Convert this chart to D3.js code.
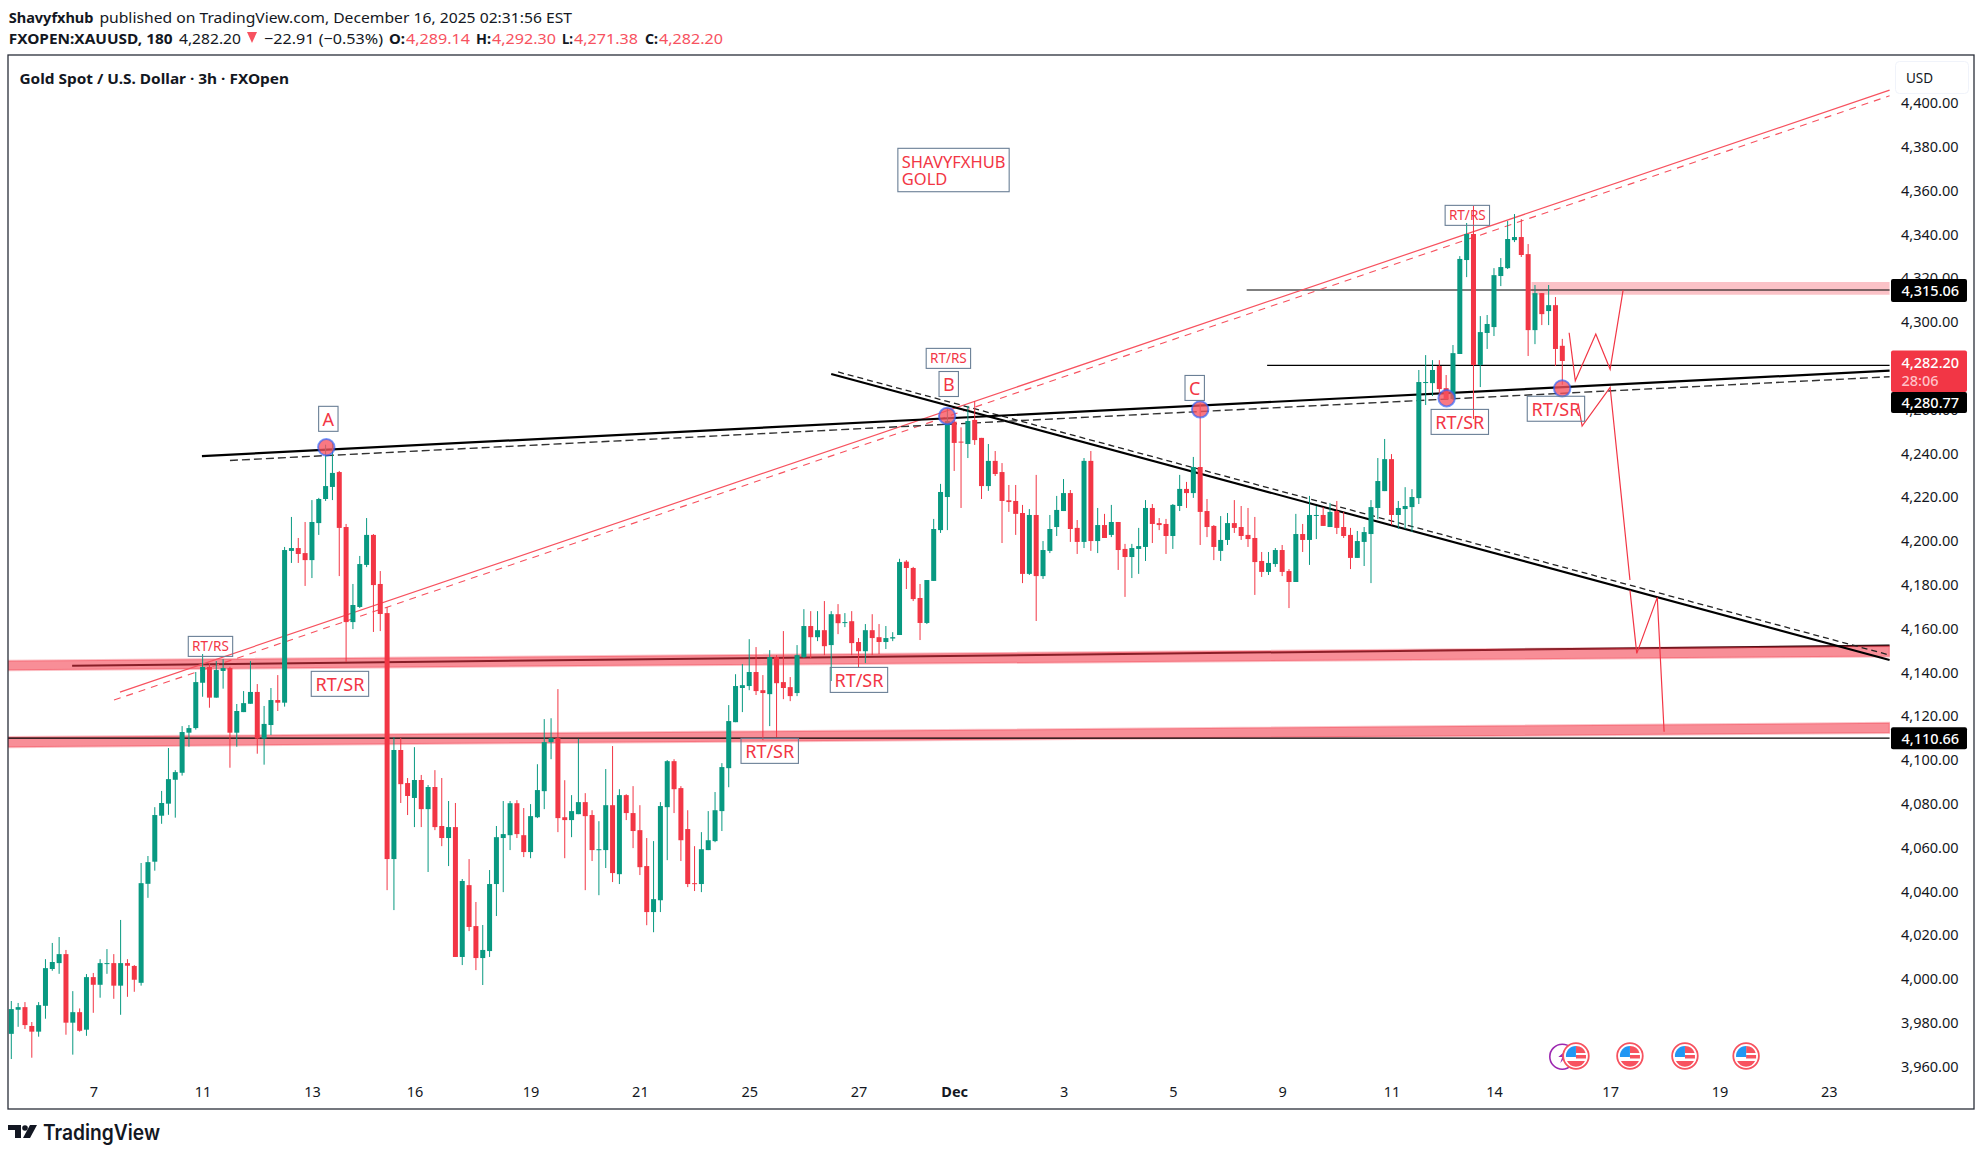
<!DOCTYPE html>
<html>
<head>
<meta charset="utf-8">
<title>XAUUSD</title>
<script src="https://cdn.jsdelivr.net/npm/d3@7"></script>
<style>
	html, body { margin: 0; padding: 0; background: #fff; }
	text { font-family: "Noto Sans", sans-serif; }
</style>
</head>
<body>
<div id="chart"></div>
<script>
// 3h candles
const opens = [
	3975.0, 3986.0, 3987.2, 3978.6, 3976.0, 3987.8, 4004.6, 4007.3, 4011.4, 3980.1,
	3984.9, 3976.9, 4000.9, 3997.4, 4007.0, 4007.3, 3997.0, 4007.3, 4006.0, 3998.3,
	4043.5, 4053.6, 4074.6, 4080.1, 4091.0, 4094.2, 4112.5, 4114.6, 4135.3, 4142.5,
	4128.5, 4140.7, 4142.0, 4112.5, 4121.9, 4125.7, 4131.1, 4109.8, 4116.0, 4127.4,
	4126.2, 4195.5, 4196.8, 4194.5, 4191.3, 4208.2, 4219.2, 4224.7, 4231.5, 4206.4,
	4163.0, 4169.9, 4189.1, 4202.8, 4180.4, 4167.1, 4054.8, 4104.6, 4089.5, 4082.7,
	4090.9, 4077.6, 4087.7, 4069.9, 4064.4, 4069.4, 4010.1, 4042.9, 4024.2, 4009.6,
	4012.8, 4043.4, 4064.4, 4065.7, 4080.3, 4065.7, 4058.0, 4073.9, 4085.8, 4108.2,
	4110.0, 4073.9, 4072.6, 4075.3, 4080.8, 4074.9, 4059.0, 4058.9, 4079.4, 4047.9,
	4084.0, 4075.8, 4068.0, 4051.6, 4030.6, 4036.0, 4078.5, 4099.5, 4087.2, 4068.5,
	4043.8, 4043.4, 4058.9, 4063.0, 4076.7, 4096.3, 4117.3, 4132.9, 4133.8, 4140.2,
	4131.9, 4130.1, 4147.0, 4135.6, 4133.3, 4130.6, 4147.0, 4161.2, 4156.1, 4159.3,
	4152.5, 4166.6, 4162.7, 4163.4, 4153.9, 4149.7, 4159.3, 4156.1, 4153.9, 4155.5,
	4157.1, 4190.6, 4187.7, 4174.0, 4162.6, 4181.8, 4205.0, 4220.1, 4254.5, 4245.4,
	4244.3, 4255.3, 4247.1, 4225.1, 4236.6, 4231.5, 4218.6, 4218.3, 4212.8, 4185.0,
	4211.9, 4184.0, 4195.5, 4206.4, 4213.7, 4221.9, 4206.0, 4199.6, 4236.6, 4200.0,
	4207.3, 4202.8, 4208.7, 4196.4, 4192.7, 4196.4, 4197.3, 4215.1, 4208.2, 4207.8,
	4202.3, 4216.0, 4223.8, 4221.9, 4233.8, 4213.7, 4206.9, 4195.5, 4200.5, 4208.2,
	4206.4, 4202.8, 4201.4, 4190.9, 4185.9, 4189.5, 4195.9, 4186.3, 4181.3, 4203.2,
	4200.5, 4211.6, 4211.9, 4206.4, 4213.7, 4206.4, 4202.8, 4192.3, 4199.6, 4203.2,
	4215.1, 4222.8, 4237.4, 4211.9, 4214.6, 4215.5, 4219.6, 4272.3, 4272.1, 4279.9,
	4269.8, 4264.8, 4285.4, 4328.3, 4340.2, 4280.4, 4295.0, 4297.7, 4321.0, 4324.6,
	4337.4, 4338.8, 4331.0, 4296.3, 4313.2, 4305.0, 4307.7, 4289.14
]
const highs = [
	3990.0, 3989.1, 3989.5, 3980.4, 3989.5, 4009.1, 4016.5, 4019.2, 4013.3, 3994.5,
	3986.6, 4002.3, 4002.8, 4009.1, 4013.7, 4011.4, 4027.0, 4009.1, 4006.4, 4053.0,
	4056.2, 4078.5, 4085.9, 4105.5, 4095.4, 4115.5, 4116.0, 4140.2, 4148.4, 4144.2,
	4145.2, 4146.1, 4142.6, 4125.6, 4131.5, 4145.2, 4134.7, 4124.7, 4132.9, 4138.8,
	4197.3, 4211.0, 4201.4, 4208.7, 4218.7, 4219.7, 4244.0, 4244.6, 4232.0, 4207.8,
	4180.4, 4193.2, 4210.5, 4203.2, 4186.3, 4169.9, 4110.5, 4110.1, 4091.8, 4105.9,
	4093.2, 4088.6, 4095.4, 4091.8, 4081.3, 4080.4, 4045.7, 4054.8, 4035.2, 4024.7,
	4049.8, 4069.9, 4081.3, 4081.3, 4081.7, 4078.1, 4079.9, 4098.1, 4118.7, 4119.1,
	4132.4, 4090.8, 4084.0, 4109.7, 4084.9, 4077.1, 4072.1, 4095.9, 4106.4, 4086.7,
	4084.4, 4088.1, 4079.4, 4064.4, 4063.0, 4080.8, 4100.0, 4100.4, 4088.1, 4077.1,
	4060.7, 4067.1, 4076.7, 4085.4, 4098.6, 4125.1, 4139.2, 4143.8, 4155.2, 4151.6,
	4138.8, 4150.2, 4147.9, 4158.9, 4137.9, 4152.5, 4168.9, 4168.0, 4168.0, 4172.6,
	4168.0, 4171.2, 4167.1, 4168.0, 4155.7, 4162.1, 4166.6, 4162.1, 4161.2, 4158.4,
	4191.9, 4191.3, 4188.2, 4180.4, 4182.2, 4210.1, 4226.1, 4260.6, 4255.3, 4251.9,
	4261.7, 4263.9, 4247.1, 4244.3, 4241.1, 4235.6, 4225.6, 4225.6, 4216.5, 4214.6,
	4230.2, 4200.0, 4211.9, 4220.6, 4228.3, 4223.3, 4209.6, 4237.9, 4241.1, 4215.1,
	4212.4, 4216.5, 4208.7, 4198.7, 4198.7, 4206.0, 4218.7, 4216.9, 4210.5, 4210.1,
	4216.9, 4230.2, 4227.0, 4238.4, 4262.9, 4219.2, 4207.3, 4211.4, 4212.8, 4218.7,
	4216.0, 4215.1, 4211.0, 4195.0, 4195.0, 4196.8, 4198.2, 4187.2, 4212.4, 4207.8,
	4220.6, 4216.0, 4215.5, 4217.4, 4218.3, 4213.3, 4206.0, 4204.6, 4206.4, 4218.7,
	4237.9, 4246.6, 4239.7, 4218.3, 4224.6, 4223.7, 4278.1, 4284.9, 4282.6, 4282.6,
	4275.8, 4289.5, 4330.1, 4345.2, 4353.0, 4302.7, 4303.2, 4324.6, 4329.2, 4346.1,
	4349.3, 4347.0, 4335.6, 4316.9, 4313.2, 4316.9, 4311.4, 4292.30
]
const lows = [
	3963.5, 3978.2, 3977.2, 3964.1, 3973.7, 3981.9, 4003.8, 4002.4, 3974.6, 3965.5,
	3976.0, 3974.1, 3984.6, 3991.5, 4002.4, 3991.0, 3983.7, 3991.9, 3994.2, 3997.0,
	4037.1, 4049.5, 4070.9, 4075.0, 4073.7, 4092.9, 4106.1, 4113.9, 4128.9, 4123.9,
	4128.5, 4132.6, 4096.5, 4106.1, 4121.9, 4125.7, 4102.9, 4097.9, 4111.4, 4122.4,
	4124.4, 4190.0, 4190.0, 4179.5, 4183.1, 4202.8, 4218.3, 4218.7, 4184.0, 4144.8,
	4159.8, 4169.4, 4188.1, 4158.5, 4158.9, 4040.6, 4031.5, 4080.4, 4074.9, 4069.4,
	4069.4, 4048.9, 4068.0, 4060.7, 4051.6, 4010.1, 4006.4, 4021.9, 4004.1, 3997.3,
	4010.1, 4028.8, 4039.7, 4058.9, 4064.4, 4055.7, 4055.2, 4073.5, 4077.6, 4100.4,
	4067.1, 4055.2, 4064.8, 4075.3, 4040.6, 4053.9, 4038.3, 4050.7, 4044.3, 4043.4,
	4072.6, 4059.8, 4047.5, 4024.6, 4021.4, 4030.6, 4054.3, 4075.8, 4053.9, 4042.0,
	4040.2, 4039.7, 4058.9, 4062.5, 4067.6, 4087.6, 4117.3, 4121.9, 4131.9, 4129.7,
	4109.1, 4115.5, 4110.5, 4127.8, 4126.9, 4129.2, 4146.6, 4146.6, 4154.3, 4147.9,
	4136.1, 4157.5, 4160.7, 4147.9, 4142.4, 4144.3, 4147.9, 4148.4, 4150.7, 4154.3,
	4157.1, 4178.1, 4172.6, 4154.8, 4162.1, 4181.8, 4203.7, 4205.0, 4232.0, 4215.1,
	4237.9, 4243.9, 4219.2, 4222.9, 4229.7, 4199.1, 4213.3, 4202.8, 4180.8, 4184.5,
	4163.5, 4182.7, 4194.5, 4202.3, 4213.7, 4199.6, 4194.1, 4196.8, 4195.5, 4194.5,
	4201.4, 4201.8, 4186.8, 4174.5, 4183.1, 4185.0, 4190.9, 4199.1, 4205.0, 4194.1,
	4196.4, 4213.7, 4215.1, 4219.7, 4198.2, 4201.8, 4191.3, 4190.9, 4198.2, 4203.7,
	4200.5, 4197.3, 4175.4, 4183.6, 4184.5, 4188.2, 4184.0, 4169.4, 4181.3, 4195.0,
	4189.1, 4200.9, 4206.9, 4206.4, 4203.2, 4201.4, 4187.2, 4192.3, 4188.6, 4180.8,
	4210.0, 4222.8, 4207.3, 4205.5, 4205.5, 4204.1, 4216.9, 4262.1, 4266.2, 4266.2,
	4264.8, 4264.8, 4285.4, 4320.5, 4255.7, 4270.3, 4287.7, 4293.6, 4316.4, 4324.2,
	4336.5, 4329.7, 4284.5, 4289.9, 4298.6, 4298.6, 4279.9, 4271.38
]
const closes = [
	3986.3, 3987.2, 3979.0, 3976.0, 3988.1, 4005.0, 4007.8, 4011.4, 3980.1, 3984.9,
	3976.4, 4000.9, 3997.4, 4007.3, 4007.3, 3997.0, 4007.3, 4006.1, 3999.7, 4043.8,
	4053.4, 4074.9, 4080.4, 4091.3, 4094.5, 4112.8, 4114.6, 4135.6, 4142.5, 4128.5,
	4141.1, 4142.0, 4112.5, 4122.4, 4126.0, 4131.1, 4109.8, 4116.5, 4127.4, 4126.2,
	4195.9, 4196.8, 4194.1, 4191.3, 4208.7, 4219.2, 4225.1, 4231.1, 4206.0, 4163.0,
	4170.8, 4189.5, 4202.8, 4179.9, 4166.7, 4054.8, 4104.6, 4089.0, 4083.6, 4090.9,
	4077.6, 4087.7, 4069.4, 4064.4, 4069.4, 4010.1, 4044.8, 4023.8, 4009.6, 4013.3,
	4043.4, 4064.8, 4066.2, 4080.3, 4066.2, 4058.0, 4074.4, 4086.3, 4108.2, 4110.0,
	4073.5, 4072.6, 4076.7, 4080.8, 4074.4, 4058.9, 4059.3, 4079.4, 4048.4, 4084.0,
	4075.8, 4067.6, 4051.1, 4030.6, 4036.5, 4079.0, 4099.5, 4086.7, 4063.4, 4043.4,
	4043.5, 4059.3, 4063.4, 4077.1, 4096.8, 4117.8, 4133.8, 4134.2, 4140.2, 4131.5,
	4130.6, 4147.0, 4135.1, 4132.9, 4129.2, 4147.9, 4161.2, 4156.1, 4159.3, 4152.0,
	4166.6, 4162.5, 4163.0, 4153.4, 4149.7, 4159.3, 4155.7, 4153.9, 4155.7, 4156.1,
	4190.4, 4187.7, 4173.5, 4162.6, 4182.2, 4205.5, 4222.4, 4254.8, 4244.8, 4245.1,
	4254.8, 4246.1, 4225.1, 4236.6, 4230.6, 4218.3, 4217.8, 4212.4, 4185.0, 4211.9,
	4184.0, 4195.9, 4205.5, 4214.2, 4221.9, 4205.5, 4199.6, 4236.6, 4200.0, 4207.3,
	4201.4, 4208.7, 4195.9, 4192.7, 4196.8, 4197.7, 4215.1, 4207.8, 4207.3, 4202.3,
	4216.5, 4223.8, 4221.9, 4233.8, 4213.3, 4206.4, 4197.3, 4200.5, 4208.2, 4206.0,
	4202.3, 4200.9, 4190.4, 4185.9, 4190.0, 4195.9, 4185.9, 4181.3, 4203.2, 4200.5,
	4211.9, 4211.9, 4206.9, 4213.3, 4206.0, 4202.3, 4192.3, 4200.0, 4204.1, 4215.5,
	4227.4, 4237.4, 4211.9, 4215.1, 4216.0, 4220.1, 4272.6, 4272.6, 4278.1, 4269.4,
	4264.8, 4285.8, 4328.8, 4340.2, 4280.4, 4295.4, 4299.1, 4321.4, 4325.1, 4337.9,
	4338.8, 4330.6, 4296.3, 4313.2, 4303.6, 4307.7, 4287.7, 4282.20
]

// axes
const yTicks = [3960, 3980, 4000, 4020, 4040, 4060, 4080, 4100, 4120, 4140, 4160, 4180, 4200, 4220, 4240, 4260, 4280, 4300, 4320, 4340, 4360, 4380, 4400]
const xTickBars = [12, 28, 44, 59, 76, 92, 108, 124, 138, 154, 170, 186, 202, 217, 234, 250, 266]
const xTickLabels = ['7', '11', '13', '16', '19', '21', '25', '27', 'Dec', '3', '5', '9', '11', '14', '17', '19', '23']

// drawings, as [bar, price]
const supportLine = [[27.9, 4238.8], [274.9, 4277.8]]
const supportDash = [[32.0, 4236.8], [274.9, 4275.0]]
const channelLine = [[15.9, 4131.05], [274.9, 4405.9]]
const channelDash = [[15.03, 4127.4], [274.9, 4403.3]]
const fallingLine = [[120.0, 4276.3], [274.9, 4145.7]]
const fallingDash = [[121.0, 4277.2], [274.9, 4147.95]]
const bandUpper = [[-0.5, 4145.4], [274.9, 4152.1], [274.9, 4147.3], [-0.5, 4141.0]]
const bandLower = [[-0.5, 4110.5], [274.9, 4117.0], [274.9, 4112.4], [-0.5, 4105.9]]
const bandTop = [[222.5, 4318.3], [274.9, 4318.3], [274.9, 4312.5], [222.5, 4312.5]]
const darkLine = [[8.9, 4143.1], [274.9, 4152.3]]
const levelLines = [
	[[-0.5, 4110.0], [274.9, 4110.0]],
	[[180.8, 4314.6], [274.9, 4314.6]],
	[[183.8, 4280.2], [274.9, 4280.2]],
]
const projections = [
	[[228.0, 4295.1], [228.9, 4273.2], [231.9, 4294.5], [234.0, 4278.4], [235.9, 4314.6]],
	[[229.3, 4262.9], [229.9, 4252.5], [234.0, 4270.2], [236.9, 4182.2]],
	[[236.9, 4177.6], [237.9, 4148.7], [240.9, 4174.3], [241.9, 4112.9]],
]

const circleBars = [46.1, 136.97, 174.0, 210.07, 226.98]
const circlePrices = [4242.8, 4257.1, 4260.1, 4265.2, 4269.7]

const noteTexts = ['A', 'B', 'C', 'RT/RS', 'RT/RS', 'RT/RS', 'RT/SR', 'RT/SR', 'RT/SR', 'RT/SR', 'RT/SR']
const noteBars = [46.4, 137.2, 173.2, 29.15, 137.15, 213.1, 48.1, 124.06, 111.0, 212.0, 226.07]
const notePrices = [4255.8, 4271.7, 4269.9, 4151.9, 4283.4, 4348.7, 4134.8, 4136.6, 4104.2, 4254.4, 4260.4]

const eventBars = [229.0, 236.9, 244.95, 253.9]

const width = 1983
const height = 1156
const frame = { left: 8, top: 55, right: 1974, bottom: 1109 }
const axisLeft = 1890
const green = '#089981'
const red = '#f23645'

const svg = d3
	.select('#chart')
	.append('svg')
	.attr('width', width)
	.attr('height', height)
	.style('display', 'block')

const x = d3.scaleLinear().domain([0, 227]).range([11.3, 1562.3])
const y = d3.scaleLinear().domain([3960, 4400]).range([1066.7, 103])
const line = d3
	.line()
	.x((d) => x(d[0]))
	.y((d) => y(d[1]))

svg
	.append('defs')
	.append('clipPath')
	.attr('id', 'plot')
	.append('rect')
	.attr('x', frame.left)
	.attr('y', frame.top)
	.attr('width', axisLeft - frame.left)
	.attr('height', frame.bottom - frame.top)

const plot = svg.append('g').attr('clip-path', 'url(#plot)')

// everything that sits under the candles
function drawLine(points, color, lineWidth, dash) {
	plot
		.append('path')
		.attr('d', line(points))
		.attr('fill', 'none')
		.attr('stroke', color)
		.attr('stroke-width', lineWidth)
		.attr('stroke-dasharray', dash || null)
}

drawLine(darkLine, '#000', 2)
;[bandUpper, bandLower].forEach((band) => {
	plot
		.append('path')
		.attr('d', line(band) + 'Z')
		.attr('fill', red)
		.attr('fill-opacity', 0.56)
		.attr('stroke', red)
		.attr('stroke-opacity', 0.3)
		.attr('stroke-width', 2)
})
plot
	.append('path')
	.attr('d', line(bandTop) + 'Z')
	.attr('fill', red)
	.attr('fill-opacity', 0.3)
levelLines.forEach((l) => drawLine(l, '#000', 1.1))

drawLine(channelDash, '#f7525f', 1.1, '7 6')
drawLine(channelLine, '#f7525f', 1.2)
drawLine(fallingDash, '#222', 1.3, '6 4')
drawLine(fallingLine, '#000', 2.1)
drawLine(supportDash, '#333', 1.4, '8 4')
drawLine(supportLine, '#000', 2.2)

// candles
const bars = d3.range(closes.length)
const colorOf = (i) => (closes[i] >= opens[i] ? green : red)

plot
	.selectAll('.wick')
	.data(bars)
	.enter()
	.append('line')
	.attr('class', 'wick')
	.attr('x1', (i) => x(i))
	.attr('x2', (i) => x(i))
	.attr('y1', (i) => y(highs[i]))
	.attr('y2', (i) => y(lows[i]))
	.attr('stroke', colorOf)
	.attr('stroke-width', 1)

plot
	.selectAll('.body')
	.data(bars)
	.enter()
	.append('rect')
	.attr('class', 'body')
	.attr('x', (i) => x(i) - 2.5)
	.attr('y', (i) => y(Math.max(opens[i], closes[i])))
	.attr('width', 5)
	.attr('height', (i) => Math.max(1, Math.abs(y(opens[i]) - y(closes[i]))))
	.attr('fill', colorOf)

// forecast zigzags and touch points
projections.forEach((p) => drawLine(p, '#f23645', 1.2))

plot
	.selectAll('.touch')
	.data(circleBars)
	.enter()
	.append('circle')
	.attr('class', 'touch')
	.attr('cx', (d) => x(d))
	.attr('cy', (d, i) => y(circlePrices[i]))
	.attr('r', 8.2)
	.attr('fill', '#f7525f')
	.attr('fill-opacity', 0.78)
	.attr('stroke', '#2962ff')
	.attr('stroke-opacity', 0.65)
	.attr('stroke-width', 2)

// note boxes
const noteSize = {
	'A': [19.4, 25, 18], 'B': [19.4, 25, 18], 'C': [19.4, 25, 18],
	'RT/RS': [44.4, 20, 13.5], 'RT/SR': [57.4, 25, 18],
}
function noteBox(cx, cy, w, h) {
	svg
		.append('rect')
		.attr('x', cx - w / 2)
		.attr('y', cy - h / 2)
		.attr('width', w)
		.attr('height', h)
		.attr('fill', 'none')
		.attr('stroke', '#6a7f96')
		.attr('stroke-width', 1.1)
}
noteTexts.forEach((t, i) => {
	const [w, h, size] = noteSize[t]
	const cx = x(noteBars[i])
	const cy = y(notePrices[i])
	noteBox(cx, cy, w, h)
	svg
		.append('text')
		.attr('x', cx)
		.attr('y', cy)
		.attr('text-anchor', 'middle')
		.attr('dominant-baseline', 'central')
		.attr('fill', red)
		.attr('font-size', size)
		.text(t)
})

noteBox(x(137.9), y(4369.4), 111.3, 43.4)
;['SHAVYFXHUB', 'GOLD'].forEach((t, i) => {
	svg
		.append('text')
		.attr('x', x(137.9) - 51.7)
		.attr('y', y(4369.4) - 9 + i * 17)
		.attr('dominant-baseline', 'central')
		.attr('fill', red)
		.attr('font-size', 16.5)
		.text(t)
})

// price axis
const yAxis = svg
	.append('g')
	.attr('transform', `translate(${axisLeft},0)`)
	.call(d3.axisRight(y).tickValues(yTicks).tickFormat(d3.format(',.2f')).tickSize(0).tickPadding(11))
yAxis.select('.domain').remove()
yAxis.selectAll('text').attr('font-size', 14.5).attr('fill', '#131722').style('font-family', '"Noto Sans", sans-serif')

const xAxis = svg
	.append('g')
	.attr('transform', 'translate(0,1084)')
	.call(
		d3
			.axisBottom(x)
			.tickValues(xTickBars)
			.tickFormat((d, i) => xTickLabels[i])
			.tickSize(0)
			.tickPadding(0)
	)
xAxis.select('.domain').remove()
xAxis
	.selectAll('text')
	.attr('font-size', 14.5)
	.attr('fill', '#131722')
	.attr('dy', '0.35em')
	.attr('y', 8)
	.attr('font-weight', (d) => (d === 138 ? 700 : 400))
	.style('font-family', '"Noto Sans", sans-serif')

// price tags
function tagText(label, textY, textColor) {
	svg
		.append('text')
		.attr('x', 1901.5)
		.attr('y', textY)
		.attr('dominant-baseline', 'central')
		.attr('fill', textColor)
		.attr('font-size', 14.5)
		.attr('font-weight', 500)
		.text(label)
}
function priceTag(top, h, color, label, textY, textColor) {
	svg
		.append('rect')
		.attr('x', 1891)
		.attr('y', top)
		.attr('width', 76)
		.attr('height', h)
		.attr('rx', 2)
		.attr('fill', color)
	tagText(label, textY, textColor)
}
priceTag(y(4314.6) - 11, 23, '#000', '4,315.06', y(4314.6), '#fff')
priceTag(y(4110) - 11, 22, '#000', '4,110.66', y(4110), '#fff')
priceTag(y(closes[227]) - 10.5, 41.5, red, d3.format(',.2f')(closes[227]), y(closes[227]) + 0.5, '#fff')
tagText('28:06', y(closes[227]) + 18.5, '#ffc2c8')
priceTag(y(closes[227]) + 31, 21, '#000', '4,280.77', y(closes[227]) + 41, '#fff')

// USD button
svg
	.append('rect')
	.attr('x', 1895.5)
	.attr('y', 61.5)
	.attr('width', 73)
	.attr('height', 32)
	.attr('rx', 4)
	.attr('fill', '#fff')
	.attr('stroke', '#f0f3fa')
svg
	.append('text')
	.attr('x', 1906)
	.attr('y', 78)
	.attr('dominant-baseline', 'central')
	.attr('fill', '#131722')
	.attr('font-size', 13.5)
	.text('USD')

// calendar icons along the bottom
const eventY = 1056
svg
	.append('circle')
	.attr('cx', x(227))
	.attr('cy', eventY + 0.7)
	.attr('r', 12.5)
	.attr('fill', '#fff')
	.attr('stroke', '#9c27b0')
	.attr('stroke-width', 1.6)
svg
	.append('path')
	.attr('d', `M${x(227) - 2},${eventY + 7}l2,-6h-4l7,-6l-2,5h3z`)
	.attr('fill', '#9c27b0')

const flags = svg
	.selectAll('.flag')
	.data(eventBars)
	.enter()
	.append('g')
	.attr('class', 'flag')
	.attr('transform', (d) => `translate(${x(d)},${eventY})`)
flags.append('circle').attr('r', 12.8).attr('fill', '#fff').attr('stroke', '#f7525f').attr('stroke-width', 1.8)
flags.append('path').attr('d', 'M0,-10A10,10 0 0 1 9.6,-3H0Z').attr('fill', '#f7525f')
flags.append('path').attr('d', 'M0,-1H10V2.5H-0Z').attr('fill', '#f7525f')
flags.append('path').attr('d', 'M-9,5H9A10,10 0 0 1 -9,5Z').attr('fill', '#f7525f')
flags.append('path').attr('d', 'M0,-10A10,10 0 0 0 -10,1H0Z').attr('fill', '#2196f3')

// frame
svg
	.append('rect')
	.attr('x', frame.left)
	.attr('y', frame.top)
	.attr('width', frame.right - frame.left)
	.attr('height', frame.bottom - frame.top)
	.attr('fill', 'none')
	.attr('stroke', '#2a2e39')
	.attr('stroke-width', 1.3)

// header lines, each piece fitted to the width it has in the reference
function headerText(t, left, right, cy, opts) {
	const o = opts || {}
	svg
		.append('text')
		.attr('x', left)
		.attr('y', cy)
		.attr('dominant-baseline', 'central')
		.attr('font-size', 15)
		.attr('font-weight', o.bold ? 700 : 400)
		.attr('fill', o.color || '#131722')
		.attr('textLength', right - left)
		.attr('lengthAdjust', 'spacingAndGlyphs')
		.text(t)
}
headerText('Shavyfxhub', 8.7, 93.5, 17, { bold: true })
headerText('published on TradingView.com, December 16, 2025 02:31:56 EST', 99.4, 572, 17)
headerText('FXOPEN:XAUUSD, 180', 8.7, 172.6, 38, { bold: true })
headerText('4,282.20', 179, 241, 38)
svg.append('path').attr('d', 'M247,32h10l-5,11z').attr('fill', '#f7525f')
headerText('−22.91 (−0.53%)', 264, 383, 38)
headerText('O:', 389, 405, 38, { bold: true })
headerText('4,289.14', 406, 470, 38, { color: '#f7525f' })
headerText('H:', 476, 491, 38, { bold: true })
headerText('4,292.30', 492, 556, 38, { color: '#f7525f' })
headerText('L:', 562, 573, 38, { bold: true })
headerText('4,271.38', 574, 638, 38, { color: '#f7525f' })
headerText('C:', 645, 658, 38, { bold: true })
headerText('4,282.20', 659, 723, 38, { color: '#f7525f' })
headerText('Gold Spot / U.S. Dollar · 3h · FXOpen', 19.4, 289, 78, { bold: true })

// TradingView mark
const logo = svg.append('g').attr('fill', '#131722')
logo.append('path').attr('d', 'M8,1125h13v13h-6v-8h-7z')
logo.append('circle').attr('cx', 25).attr('cy', 1128).attr('r', 2.8)
logo.append('path').attr('d', 'M30,1125h7l-7,13h-7z')
svg
	.append('text')
	.attr('x', 43)
	.attr('y', 1132)
	.attr('dominant-baseline', 'central')
	.attr('font-size', 21)
	.attr('font-weight', 600)
	.attr('fill', '#131722')
	.attr('textLength', 117)
	.attr('lengthAdjust', 'spacingAndGlyphs')
	.style('font-family', 'Inter, sans-serif')
	.text('TradingView')
</script>
</body>
</html>
